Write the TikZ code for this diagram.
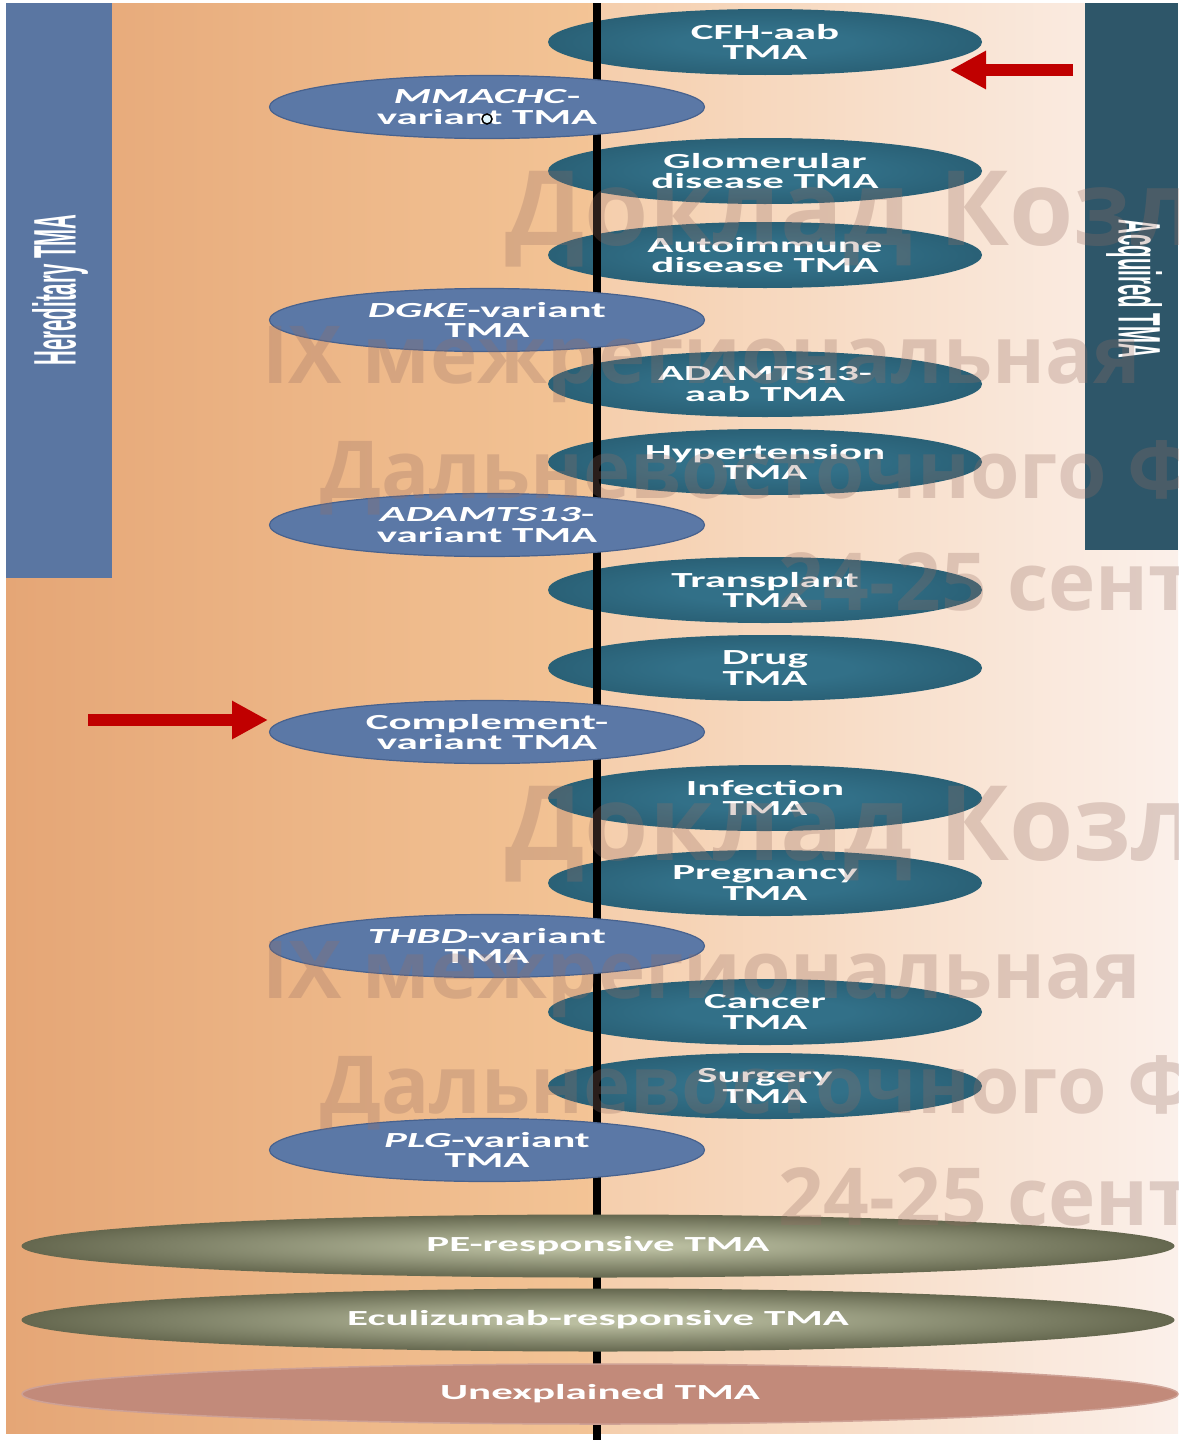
\documentclass[tikz,border=0pt]{standalone}
\usepackage{fontspec}
\usepackage{tikz}
\usetikzlibrary{arrows.meta,shapes.geometric}
\newfontfamily\ovalfont[FakeStretch=2]{Carlito}
\newfontfamily\barfont[FakeStretch=0.68]{Liberation Sans}
\newfontfamily\wmfont{Open Sans}
\definecolor{hereblue}{RGB}{90,118,162}
\definecolor{acqteal}{RGB}{46,86,105}
\definecolor{ovalblue}{RGB}{91,120,166}
\definecolor{ovalblueedge}{RGB}{72,98,142}
\definecolor{tealin}{RGB}{50,112,136}
\definecolor{tealout}{RGB}{30,74,92}
\definecolor{olivein}{RGB}{186,190,160}
\definecolor{oliveout}{RGB}{58,60,38}
\definecolor{unexfill}{RGB}{194,138,122}
\definecolor{bgleftA}{RGB}{229,166,118}
\definecolor{bgleftB}{RGB}{243,196,150}
\definecolor{bgrightA}{RGB}{245,206,172}
\definecolor{bgrightB}{RGB}{251,240,234}
\definecolor{arrowred}{RGB}{192,0,0}
\definecolor{wmcol}{RGB}{150,110,100}
\pgfdeclareradialshading{olivesh}{\pgfpoint{0bp}{0bp}}{color(0bp)=(olivein); color(3bp)=(olivein); color(36bp)=(oliveout); color(100bp)=(oliveout)}
\pgfdeclareradialshading{tealsh}{\pgfpoint{0bp}{0bp}}{color(0bp)=(tealin); color(10bp)=(tealin); color(47bp)=(tealout); color(100bp)=(tealout)}

\begin{document}
\begin{tikzpicture}[x=1pt,y=-1pt,
  hered/.style={ellipse,draw=ovalblueedge,line width=1.2pt,fill=ovalblue,minimum width=435pt,minimum height=63pt,inner sep=0pt,text=white,align=center,font={\ovalfont\bfseries\fontsize{21.5}{20.5}\selectfont}},
  acq/.style={ellipse,shade,shading=tealsh,minimum width=434pt,minimum height=66pt,inner sep=0pt,text=white,align=center,font={\ovalfont\bfseries\fontsize{21.5}{20.5}\selectfont}},
  resp/.style={ellipse,shade,shading=olivesh,minimum width=1153pt,minimum height=63pt,inner sep=0pt,text=white,font={\ovalfont\bfseries\fontsize{21.5}{20.5}\selectfont}},
  barlab/.style={text=white,inner sep=0pt,font={\barfont\bfseries\fontsize{30}{30}\selectfont}},
  redarr/.style={draw=arrowred,line width=12pt,-{Triangle[length=36pt,width=36pt]}},
  wm/.style={anchor=base west,inner sep=0pt,text=wmcol,text opacity=0.28,font={\wmfont\bfseries\fontsize{80}{80}\selectfont}}
]
\useasboundingbox (0,0) rectangle (1178,1440);
\fill[white] (0,0) rectangle (1178,1440);
\shade[left color=bgleftA,right color=bgleftB] (6,3) rectangle (597,1433);
\shade[left color=bgrightA,right color=bgrightB] (597,3) rectangle (1178,1433);

% side bars
\fill[hereblue] (6,3) rectangle (112,578);
\fill[acqteal] (1085,3) rectangle (1178,550);
\node[barlab,rotate=90] (herlab) at (60,290) {\scalebox{1}[2]{Hereditary TMA}};
\node[barlab,rotate=-90] (acqlab) at (1134,289) {\scalebox{1}[2]{Acquired TMA}};

% acquired forms
\node[acq] (cfh) at (765,42) {CFH-aab\\TMA};
\node[acq] (glom) at (765,171) {Glomerular\\disease TMA};
\node[acq] (autoimm) at (765,255) {Autoimmune\\disease TMA};
\node[acq] (adamtsaab) at (765,384) {ADAMTS13-\\aab TMA};
\node[acq] (hyper) at (765,462) {Hypertension\\TMA};
\node[acq] (transpl) at (765,590) {Transplant\\TMA};
\node[acq] (drug) at (765,668) {Drug\\TMA};
\node[acq] (infect) at (765,798) {Infection\\TMA};
\node[acq] (pregn) at (765,883) {Pregnancy\\TMA};
\node[acq] (cancer) at (765,1012) {Cancer\\TMA};
\node[acq] (surgery) at (765,1086) {Surgery\\TMA};

% axis
\coordinate (axtop) at (597,3);
\coordinate (axbot) at (597,1440);
\draw[line width=8pt] (axtop) -- (axbot);

% hereditary forms
\node[hered] (mmachc) at (487,107) {\textit{MMACHC}-\\variant TMA};
\node[hered] (dgke) at (487,320) {\textit{DGKE}-variant\\TMA};
\node[hered] (adamtsvar) at (487,525) {\textit{ADAMTS13}-\\variant TMA};
\node[hered] (compl) at (487,732) {Complement-\\variant TMA};
\node[hered] (thbd) at (487,946) {\textit{THBD}-variant\\TMA};
\node[hered] (plg) at (487,1150) {\textit{PLG}-variant\\TMA};
\node[circle,draw=black,fill=cyan!12,line width=1.5pt,minimum size=10pt,inner sep=0pt] (dot) at (487,119) {};

% responses
\node[resp] (peresp) at (598,1246) {PE-responsive TMA};
\node[resp] (eculiz) at (598,1320) {Eculizumab-responsive TMA};
\node[ellipse,fill=unexfill,draw=unexfill!80!white,line width=1.5pt,minimum width=1156pt,minimum height=60pt,text=white,font={\ovalfont\bfseries\fontsize{21.5}{20.5}\selectfont}] (unexpl) at (600,1394) {Unexplained TMA};

% arrows
\coordinate (arrR) at (1073,70);
\coordinate (cfhtip) at (950,70);
\coordinate (arrL) at (88,720);
\coordinate (compltip) at (268,720);
\draw[redarr] (arrR) -- (cfhtip);
\draw[redarr] (arrL) -- (compltip);

% watermark
\begin{scope}
\clip (0,0) rectangle (1178,1440);
\node[wm,font={\wmfont\bfseries\fontsize{104}{104}\selectfont}] (wma) at (505,245) {Доклад Козл};
\node[wm] (wmb) at (262,383) {IX межрегиональная};
\node[wm] (wmc) at (320,498) {Дальневосточного Ф};
\node[wm] (wmd) at (778,610) {24-25 сент};
\node[wm,font={\wmfont\bfseries\fontsize{104}{104}\selectfont}] (wme) at (505,860) {Доклад Козл};
\node[wm] (wmf) at (262,998) {IX межрегиональная};
\node[wm] (wmg) at (320,1113) {Дальневосточного Ф};
\node[wm] (wmh) at (778,1225) {24-25 сент};
\end{scope}
\end{tikzpicture}
\end{document}
